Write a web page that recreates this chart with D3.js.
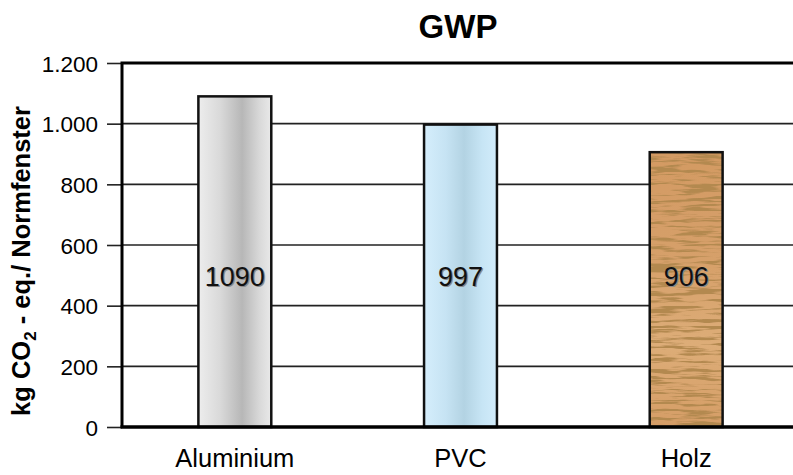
<!DOCTYPE html>
<html>
<head>
<meta charset="utf-8">
<script src="https://cdn.jsdelivr.net/npm/d3@7"></script>
<style>
  body { margin: 0; background: #fff; }
  svg { display: block; font-family: "Liberation Sans", Arial, sans-serif; }
</style>
</head>
<body>
<div id="chart"></div>
<script>
const categories = ["Aluminium", "PVC", "Holz"];
const values = [1090, 997, 906];
const yTicks = [0, 200, 400, 600, 800, 1000, 1200];
const title = "GWP";

const W = 793, H = 475;
const margin = {top: 63, right: -6, bottom: 48, left: 122},
    width = W - margin.left - margin.right,
    height = H - margin.top - margin.bottom;

const svg = d3.select("#chart")
  .append("svg")
    .attr("width", W)
    .attr("height", H);

const defs = svg.append("defs");

// metal gradient
const gAl = defs.append("linearGradient").attr("id", "gAl");
[["0%", "#ededed"], ["30%", "#d9d9d9"], ["60%", "#b7b7b7"], ["85%", "#dadada"], ["100%", "#e9e9e9"]]
  .forEach(s => gAl.append("stop").attr("offset", s[0]).attr("stop-color", s[1]));

// plastic gradient
const gPvc = defs.append("linearGradient").attr("id", "gPvc");
[["0%", "#d5eefc"], ["30%", "#c6e3f3"], ["55%", "#b3d3e3"], ["80%", "#c7e5f5"], ["100%", "#d2ecfb"]]
  .forEach(s => gPvc.append("stop").attr("offset", s[0]).attr("stop-color", s[1]));

// wood base
const gWood = defs.append("linearGradient").attr("id", "gWood")
  .attr("x1", 0).attr("y1", 0).attr("x2", 0).attr("y2", 1);
[["0%", "#d39a63"], ["40%", "#d6a06a"], ["70%", "#ddad78"], ["100%", "#d59d66"]]
  .forEach(s => gWood.append("stop").attr("offset", s[0]).attr("stop-color", s[1]));

// wood grain streaks
const wf = defs.append("filter").attr("id", "grain")
  .attr("x", 0).attr("y", 0).attr("width", 1).attr("height", 1);
wf.append("feTurbulence")
  .attr("type", "fractalNoise")
  .attr("baseFrequency", "0.025 0.3")
  .attr("numOctaves", 3)
  .attr("seed", 7)
  .attr("result", "noise");
wf.append("feColorMatrix")
  .attr("in", "noise")
  .attr("type", "matrix")
  .attr("values", "0 0 0 0 0.45  0 0 0 0 0.25  0 0 0 0 0.08  7 0 0 0 -3.4")
  .attr("result", "streaks");
wf.append("feComposite").attr("in", "streaks").attr("in2", "SourceGraphic")
  .attr("operator", "in").attr("result", "clipped");
const fm = wf.append("feMerge");
fm.append("feMergeNode").attr("in", "SourceGraphic");
fm.append("feMergeNode").attr("in", "clipped");

const fills = ["url(#gAl)", "url(#gPvc)", "url(#gWood)"];

const g = svg.append("g")
  .attr("transform", "translate(" + margin.left + "," + margin.top + ")");

const x = d3.scaleBand()
  .domain(categories)
  .range([0, width])
  .paddingInner(0.677)
  .paddingOuter(0.3385);

const y = d3.scaleLinear()
  .domain([0, 1200])
  .range([height, 0]);

// gridlines
g.append("g")
  .selectAll("line")
  .data(yTicks.slice(1, -1))
  .join("line")
    .attr("x1", 0)
    .attr("x2", width)
    .attr("y1", d => y(d))
    .attr("y2", d => y(d))
    .attr("stroke", "#222")
    .attr("stroke-width", 1.6);

// y axis
const yAxis = g.append("g")
  .call(d3.axisLeft(y).tickValues(yTicks).tickSize(15).tickPadding(9)
    .tickFormat(d => d3.format(",")(d).replace(",", ".")));
yAxis.select(".domain").remove();
yAxis.selectAll(".tick line").attr("stroke", "#222").attr("stroke-width", 1.6);
yAxis.selectAll("text")
  .style("font-size", "22.5px")
  .style("fill", "#000")
  .attr("dy", "0.36em");

// bars
const bars = g.selectAll(".bar")
  .data(values)
  .join("g")
    .attr("class", "bar");

bars.append("rect")
  .attr("x", (d, i) => x(categories[i]))
  .attr("y", d => y(d))
  .attr("width", x.bandwidth())
  .attr("height", d => height - y(d))
  .attr("fill", (d, i) => fills[i])
  .attr("filter", (d, i) => i === 2 ? "url(#grain)" : null);

bars.append("rect")
  .attr("x", (d, i) => x(categories[i]))
  .attr("y", d => y(d))
  .attr("width", x.bandwidth())
  .attr("height", d => height - y(d))
  .attr("fill", "none")
  .attr("stroke", "#111")
  .attr("stroke-width", 2.5);

// value labels with soft shadow
[["shadow", "#8a8a8a", 1.2], ["label", "#111", 0]].forEach(([cls, c, off]) => {
  g.selectAll(".val-" + cls)
    .data(values)
    .join("text")
      .attr("class", "val-" + cls)
      .attr("x", (d, i) => x(categories[i]) + x.bandwidth() / 2 + off)
      .attr("y", 223 + off)
      .attr("text-anchor", "middle")
      .style("font-size", "27px")
      .style("fill", c)
      .text(d => d);
});

// frame: left, top, bottom
g.append("path")
  .attr("d", "M0," + height + "V0H" + (width + 10))
  .attr("fill", "none")
  .attr("stroke", "#000")
  .attr("stroke-width", 3);
g.append("line")
  .attr("x1", -1.5).attr("x2", width + 10)
  .attr("y1", height).attr("y2", height)
  .attr("stroke", "#000")
  .attr("stroke-width", 3.5);

// category labels
g.selectAll(".cat")
  .data(categories)
  .join("text")
    .attr("class", "cat")
    .attr("x", d => x(d) + x.bandwidth() / 2)
    .attr("y", height + 40)
    .attr("text-anchor", "middle")
    .style("font-size", "25.5px")
    .style("fill", "#000")
    .text(d => d);

// y axis title
const yt = svg.append("text")
  .attr("transform", "translate(30," + 261 + ") rotate(-90)")
  .attr("text-anchor", "middle")
  .style("font-size", "25.5px")
  .style("font-weight", "bold")
  .style("fill", "#000");
yt.append("tspan").text("kg CO");
yt.append("tspan").attr("dy", 6).style("font-size", "17px").text("2");
yt.append("tspan").attr("dy", -6).text(" - eq./ Normfenster");

// title
svg.append("text")
  .attr("x", 458)
  .attr("y", 38)
  .attr("text-anchor", "middle")
  .style("font-size", "33px")
  .style("font-weight", "bold")
  .style("fill", "#000")
  .text(title);
</script>
</body>
</html>
